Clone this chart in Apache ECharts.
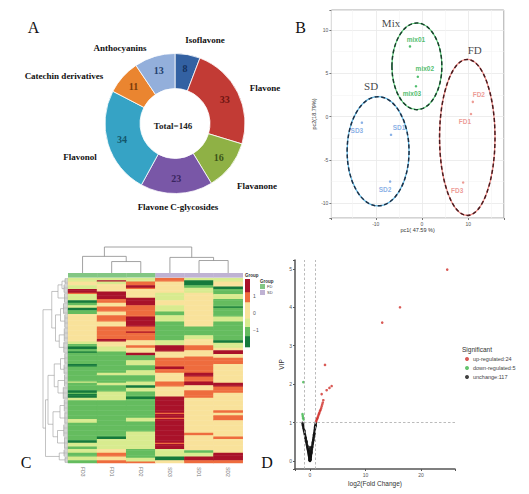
<!DOCTYPE html>
<html>
<head>
<meta charset="utf-8">
<script src="https://cdn.jsdelivr.net/npm/echarts@6/dist/echarts.min.js"></script>
<style>html,body{margin:0;padding:0;background:#fff;}#chart{width:529px;height:494px;}</style>
</head>
<body>
<div id="chart"></div>
<script>
// ================= DATA =================
// Panel A : flavonoid classes (donut)
const pieCategories = ['Isoflavone','Flavone','Flavanone','Flavone C-glycosides','Flavonol','Catechin derivatives','Anthocyanins'];
const pieValues = [8, 33, 16, 23, 34, 11, 13];
const pieCenterText = 'Total=146';

// Panel B : PCA scores
const pcaSamples = ['mix01','mix02','mix03','FD1','FD2','FD3','SD1','SD2','SD3'];
const pcaGroups  = ['Mix','Mix','Mix','FD','FD','FD','SD','SD','SD'];
const pcaPC1 = [-2.6, -0.9, -1.3, 10.6, 11.0, 8.9, -6.7, -6.9, -13.0];
const pcaPC2 = [ 8.1,  4.6,  3.5,  0.3,  1.7, -7.6, -2.1, -7.5,  -0.7];
const ellipseGroups = ['Mix','FD','SD'];
const ellipseCX = [-1.1, 9.8, -9.5];
const ellipseCY = [5.8, -2.4, -4.0];
const ellipseRX = [5.4, 6.0, 6.7];
const ellipseRY = [5.0, 9.0, 6.3];
const groupTagX = [-6.7, 11.4, -11.0];
const groupTagY = [10.8, 7.7, 3.5];
const pcaXTitle = 'pc1( 47.59 %)';
const pcaYTitle = 'pc2(18.79%)';

// Panel C : clustered heatmap (run-length coded rows, top to bottom)
const heatSamples = ['FD3','FD1','FD2','SD3','SD1','SD2'];
const heatSampleGroups = ['FD','FD','FD','SD','SD','SD'];
const heatLevelCodes  = ['G','g','l','y','o','r'];
const heatLevelValues = [-1.7, -1.1, -0.5, 0.2, 0.9, 1.6];
const heatColumnRuns = [
  'l3 y3 l3 r3 o1 l5 G2 g2 l2 G2 g3 y22 l2 g2 G2 g2 G1 g9 G2 g12 l1 g6 G2 g1 G3 l2 g15 l3 g14 G2 l3 g2 l3 g3 l3 g2',
  'l2 r1 l2 y6 r6 o3 y3 o4 y3 o5 y4 o10 r2 y4 l4 g17 l2 g6 l2 g5 l7 g29 G2 l8 y3 o3 y3 o2',
  'l3 o3 r2 o1 y2 y5 r6 o9 r8 o4 r1 o6 y4 o2 y4 r2 g4 l4 g4 l4 g5 l3 G2 l3 g4 G2 g15 l3 g8 l14 g7 l3 o1',
  'o3 y9 l6 y4 l5 g3 l5 g15 l4 r5 y5 o7 r2 o3 y7 o4 y8 r13 o1 r3 o1 r19 o1 r4 l6 G3 y2',
  'l2 G4 g2 l4 y27 g7 l3 y5 o4 y5 o13 r3 o4 r3 y4 o6 y28 o2 y12 g2 l3 r3 o2',
  'l3 y4 G2 g4 l4 g6 G1 g7 l4 g15 G2 l4 y2 r3 y3 o5 y15 r3 o5 y14 o2 y2 o4 y13 o2 y11 r6 o2'
];
const heatBreaks = [-2, -1.35, -0.8, -0.3, 0.65, 1.24, 2];
const heatLegendTicks = [-1, 0, 1];
const colTree = [25, [16, 0, [11, 1, 2]], [15, 3, [12, 4, 5]]];
const rowLeafGroups = [[0,5,1.2],[5,12,1.6],[12,20,1.4],[20,29,1.8],[29,40,1.3],[40,51,1.5],[51,60,1.7],[60,69,1.3],[69,77,1.6],[77,87,1.4],[87,97,1.9],[97,107,1.5],[107,117,1.3],[117,127,1.7],[127,137,1.4],[137,143,1.6],[143,148,1.2]];
const rowTree = [10, [6.5, [4, [2.4, 0, 1], 2], [5, [3, 3, 4], [3.5, 5, 6]]],
                     [9, [8, [5.5, [3, 7, 8], [4, 9, 10]], [6, [3.2, 11, 12], [4.2, 13, 14]]], [3.5, 15, 16]]];

// Panel D : volcano plot
const volcanoNames = ['up-regulated:24', 'down-regulated:5', 'unchange:117'];
const upPoints = [[1.08,1.02],[1.15,1.05],[1.22,1.08],[1.3,1.1],[1.38,1.13],[1.45,1.16],[1.55,1.2],[1.62,1.23],[1.7,1.26],[1.8,1.3],[1.9,1.33],[2.0,1.37],[2.1,1.42],[2.2,1.47],[2.3,1.52],[2.4,1.58],[2.1,1.74],[3.0,1.84],[3.5,1.9],[3.9,1.95],[2.7,2.5],[13.0,3.6],[16.2,4.0],[24.7,4.98]];
const downPoints = [[-1.2,2.05],[-1.35,1.22],[-1.3,1.17],[-1.25,1.12],[-1.15,1.08]];
const flatPoints = [
  [-1.36,0.99],[-1.31,0.95],[-1.27,0.92],[-1.22,0.89],[-1.18,0.86],[-1.14,0.84],[-1.1,0.81],[-1.06,0.78],[-1.02,0.76],[-0.98,0.73],
  [-0.94,0.7],[-0.9,0.68],[-0.87,0.65],[-0.83,0.62],[-0.8,0.6],[-0.76,0.57],[-0.72,0.54],[-0.69,0.52],[-0.65,0.49],[-0.62,0.47],
  [-0.58,0.44],[-0.55,0.42],[-0.52,0.4],[-0.49,0.37],[-0.46,0.35],[-0.43,0.33],[-0.4,0.31],[-0.37,0.29],[-0.34,0.27],[-0.31,0.25],
  [-0.29,0.23],[-0.26,0.21],[-0.24,0.19],[-0.21,0.17],[-0.19,0.15],[-0.17,0.13],[-0.15,0.12],[-0.13,0.1],[-0.11,0.08],[-0.09,0.07],
  [-0.07,0.05],[-0.05,0.04],[-0.04,0.02],[-0.02,0.01],[-1.24,0.94],[-1.0,0.79],[-0.78,0.6],[-0.6,0.5],[-0.44,0.38],[-0.3,0.27],
  [1.06,1.0],[1.03,0.97],[1.0,0.94],[0.97,0.91],[0.94,0.89],[0.91,0.86],[0.88,0.83],[0.85,0.8],[0.82,0.77],[0.79,0.74],
  [0.76,0.71],[0.73,0.68],[0.7,0.65],[0.67,0.62],[0.64,0.6],[0.61,0.57],[0.58,0.54],[0.55,0.51],[0.52,0.48],[0.49,0.45],
  [0.46,0.43],[0.43,0.4],[0.4,0.37],[0.37,0.34],[0.34,0.31],[0.31,0.29],[0.28,0.26],[0.26,0.24],[0.23,0.21],[0.21,0.19],
  [0.18,0.17],[0.16,0.15],[0.14,0.13],[0.12,0.11],[0.1,0.09],[0.08,0.07],[0.06,0.05],[0.04,0.03],[0.02,0.02],[1.02,0.92],
  [0.9,0.88],[0.8,0.71],[0.7,0.68],[0.6,0.54],[0.5,0.48],[0.38,0.36],[0.27,0.22],[0.2,0.2],[0.15,0.12],[0.09,0.1],
  [0,0.0],[0.01,0.03],[-0.01,0.06],[0.03,0.09],[-0.03,0.12],[0.02,0.15],[0.0,0.18],[-0.06,0.21],[0.05,0.24],[0.01,0.27],
  [-0.08,0.3],[0.07,0.33],[0.02,0.36],[-0.04,0.1],[0.05,0.05],[-0.1,0.02],[0.11,0.04]
];
const vipCut = 1, fcCutLow = -1, fcCutHigh = 1;

// ================= STYLE / LAYOUT =================
const serif = 'Liberation Serif';
const sans = 'Liberation Sans';
const pieColors = ['#3361a2','#c23b35','#8fb145','#7957a7','#36a3c5','#ea8530','#93afdb'];
const pieNumberColors = ['#14305e','#6e1512','#3c5418','#3a2560','#14566b','#7a3a08','#243f6d'];
const pieNamePos = [[205,40],[265,88],[257,186],[178,207],[80,157],[64,76],[120,48]];
const groupLabelColor = {Mix:'#23ad48', FD:'#e9837b', SD:'#6d9de0'};
const ellipseLight = {Mix:'#56c774', FD:'#f08c86', SD:'#5fb6e2'};
const ellipseDark = {Mix:'#163f2a', FD:'#4a1a1e', SD:'#1c2f45'};
const pcaLabelOffset = {mix01:[6,-7], mix02:[7,-8], mix03:[-4,7], FD1:[-6,7], FD2:[6,-7], FD3:[-6,8], SD1:[8,-7], SD2:[-5,8], SD3:[-5,8]};
const heatColors = ['#167a3c','#65bc5f','#d8eb8f','#f9e29b','#ee6c3e','#a9122a'];
const sampleGroupColors = {FD:'#82c683', SD:'#bfb2d3'};

// ================= BUILD =================
function decodeRuns(s){
  const out = [];
  s.trim().split(/\s+/).forEach(t => { const n = parseInt(t.slice(1), 10); for (let i = 0; i < n; i++) out.push(t[0]); });
  return out;
}
const heatCols = heatColumnRuns.map(decodeRuns);
const nRows = heatCols[0].length;
const rowNames = Array.from({length: nRows}, (_, i) => 'm' + (i + 1));
const heatData = [];
heatCols.forEach((col, ci) => col.forEach((code, ri) => heatData.push([ci, ri, heatLevelValues[heatLevelCodes.indexOf(code)]])));

// dendrogram layout -> segments in (position, height)
function layoutTree(node, segs, leafInfo){
  if (typeof node === 'number') return leafInfo(node, segs);
  const a = layoutTree(node[1], segs, leafInfo), b = layoutTree(node[2], segs, leafInfo), h = node[0];
  segs.push([a.pos, a.h, a.pos, h]);
  segs.push([b.pos, b.h, b.pos, h]);
  segs.push([a.pos, h, b.pos, h]);
  return {pos: (a.pos + b.pos) / 2, h: h};
}
const colSegs = [];
layoutTree(colTree, colSegs, (i) => ({pos: i, h: 0}));
const rowSegsPH = [];
layoutTree(rowTree, rowSegsPH, (gi, segs) => {
  const g = rowLeafGroups[gi];
  for (let r = g[0]; r < g[1]; r++) segs.push([r + 0.5, 0, r + 0.5, g[2]]);
  segs.push([g[0] + 0.5, g[2], g[1] - 0.5, g[2]]);
  return {pos: (g[0] + g[1]) / 2, h: g[2]};
});
const rowSegs = rowSegsPH.map(s => [s[1], s[0], s[3], s[2]]); // x = height, y = row

const legendBands = [];
for (let i = 0; i < heatColors.length; i++) legendBands.push([heatBreaks[i], heatBreaks[i + 1], i]);

function segRender(color, width){
  return function(params, api){
    const a = api.coord([api.value(0), api.value(1)]);
    const b = api.coord([api.value(2), api.value(3)]);
    return {type: 'line', shape: {x1: a[0], y1: a[1], x2: b[0], y2: b[1]}, style: {stroke: color, lineWidth: width}};
  };
}

const chart = echarts.init(document.getElementById('chart'), null, {renderer: 'svg'});

const tickLabel = {fontSize: 5, color: '#555', fontFamily: sans};
const noGrid = {show: false};

const pcaSeries = ellipseGroups.map(gname => ({
  type: 'scatter', xAxisIndex: 0, yAxisIndex: 0, symbolSize: 2.5, silent: true,
  itemStyle: {color: groupLabelColor[gname], opacity: 0.8},
  data: pcaSamples.map((s, i) => pcaGroups[i] === gname ? {name: s, value: [pcaPC1[i], pcaPC2[i]], label: {offset: pcaLabelOffset[s]}} : null).filter(Boolean),
  label: {show: true, position: 'inside', formatter: '{b}', fontSize: 6.5, fontWeight: 'bold', fontFamily: sans, color: groupLabelColor[gname]}
}));

const option = {
  backgroundColor: '#fff',
  animation: false,
  textStyle: {fontFamily: sans},
  graphic: [
    {type: 'text', x: 33.5, y: 27, style: {text: 'A', fontSize: 16, fontFamily: serif, fill: '#111', textAlign: 'center', textVerticalAlign: 'middle'}},
    {type: 'text', x: 300.5, y: 27, style: {text: 'B', fontSize: 16, fontFamily: serif, fill: '#111', textAlign: 'center', textVerticalAlign: 'middle'}},
    {type: 'text', x: 26, y: 462.5, style: {text: 'C', fontSize: 16, fontFamily: serif, fill: '#111', textAlign: 'center', textVerticalAlign: 'middle'}},
    {type: 'text', x: 267, y: 462.5, style: {text: 'D', fontSize: 16, fontFamily: serif, fill: '#111', textAlign: 'center', textVerticalAlign: 'middle'}},
    {type: 'text', x: 173, y: 126, style: {text: pieCenterText, fontSize: 9, fontWeight: 'bold', fontFamily: serif, fill: '#222', textAlign: 'center', textVerticalAlign: 'middle'}},
    {type: 'text', x: 245, y: 275.5, style: {text: 'Group', fontSize: 4.5, fontWeight: 'bold', fontFamily: sans, fill: '#333', textAlign: 'left', textVerticalAlign: 'middle'}},
    {type: 'text', x: 260, y: 281, style: {text: 'Group', fontSize: 4.5, fontWeight: 'bold', fontFamily: sans, fill: '#333', textAlign: 'left', textVerticalAlign: 'middle'}},
    {type: 'rect', shape: {x: 260, y: 284, width: 5, height: 5}, style: {fill: sampleGroupColors.FD}},
    {type: 'rect', shape: {x: 260, y: 290, width: 5, height: 5}, style: {fill: sampleGroupColors.SD}},
    {type: 'text', x: 267, y: 286.5, style: {text: 'FD', fontSize: 4, fontFamily: sans, fill: '#444', textAlign: 'left', textVerticalAlign: 'middle'}},
    {type: 'text', x: 267, y: 292.5, style: {text: 'SD', fontSize: 4, fontFamily: sans, fill: '#444', textAlign: 'left', textVerticalAlign: 'middle'}},
    {type: 'text', x: 462, y: 349.5, style: {text: 'Significant', fontSize: 6.5, fontFamily: sans, fill: '#333', textAlign: 'left', textVerticalAlign: 'middle'}}
  ],
  legend: {
    data: volcanoNames, orient: 'vertical', left: 465, top: 356, padding: 0,
    itemWidth: 4, itemHeight: 4, itemGap: 3, icon: 'circle', selectedMode: false,
    textStyle: {fontSize: 5.5, color: '#444', fontFamily: sans, padding: [0, 0, 0, -1]}
  },
  visualMap: [{
    type: 'piecewise', show: false, seriesIndex: 10, dimension: 2,
    pieces: legendBands.map(b => ({gte: b[0], lt: b[1], color: heatColors[b[2]]}))
  }],
  grid: [
    {left: 331.4, top: 10, width: 172.4, height: 208, show: true, borderColor: '#a8a8a8', borderWidth: 1, backgroundColor: '#fff', containLabel: false, outerBoundsMode: 'none'},
    {left: 295, top: 260, width: 160, height: 209, containLabel: false, outerBoundsMode: 'none'},
    {left: 68, top: 278, width: 174.7, height: 185, containLabel: false, outerBoundsMode: 'none'},
    {left: 68, top: 273, width: 174.7, height: 4.6, containLabel: false, outerBoundsMode: 'none'},
    {left: 68, top: 247, width: 174.7, height: 26, containLabel: false, outerBoundsMode: 'none'},
    {left: 43, top: 278, width: 25, height: 185, containLabel: false, outerBoundsMode: 'none'},
    {left: 245, top: 279, width: 5, height: 68, containLabel: false, outerBoundsMode: 'none'}
  ],
  xAxis: [
    {gridIndex: 0, type: 'value', min: -19.6, max: 17.7, splitNumber: 4,
     name: pcaXTitle, nameLocation: 'middle', nameGap: 9, nameTextStyle: {fontSize: 5.5, color: '#333'},
     axisLine: {show: false, onZero: false}, axisTick: {show: true, length: 2, lineStyle: {color: '#777'}},
     axisLabel: Object.assign({margin: 3, formatter: v => (Math.abs(v % 10) < 1e-9 ? String(v) : '')}, tickLabel),
     splitLine: {show: true, lineStyle: {color: '#e8e8e8', width: 0.8}},
     minorTick: {show: false, splitNumber: 2}, minorSplitLine: {show: true, lineStyle: {color: '#f3f3f3', width: 0.6}}},
    {gridIndex: 1, type: 'value', min: -2.7, max: 26.1, splitNumber: 3,
     name: 'log2(Fold Change)', nameLocation: 'middle', nameGap: 11, nameTextStyle: {fontSize: 6.5, color: '#333'},
     axisLine: {show: true, onZero: false, lineStyle: {color: '#555', width: 1.5}}, axisTick: {show: true, length: 2, lineStyle: {color: '#555'}},
     axisLabel: Object.assign({margin: 3, formatter: v => (Math.abs(v % 10) < 1e-9 ? String(v) : '')}, tickLabel),
     splitLine: noGrid},
    {gridIndex: 2, type: 'category', data: heatSamples, axisLine: {show: false}, axisTick: {show: false},
     axisLabel: {rotate: -90, fontSize: 5, color: '#777', margin: 4, fontFamily: sans}, splitLine: noGrid},
    {gridIndex: 3, type: 'value', min: -0.5, max: 5.5, show: false},
    {gridIndex: 4, type: 'value', min: -0.5, max: 5.5, show: false},
    {gridIndex: 5, type: 'value', min: 0, max: 10, inverse: true, show: false},
    {gridIndex: 6, type: 'value', min: 0, max: 1, show: false}
  ],
  yAxis: [
    {gridIndex: 0, type: 'value', min: -11.7, max: 12.3, splitNumber: 5,
     name: pcaYTitle, nameLocation: 'middle', nameGap: 11, nameTextStyle: {fontSize: 5.5, color: '#333'},
     axisLine: {show: false, onZero: false}, axisTick: {show: true, length: 2, lineStyle: {color: '#777'}},
     axisLabel: Object.assign({margin: 3, formatter: v => (Math.abs(v % 5) < 1e-9 ? String(v) : '')}, tickLabel),
     splitLine: {show: true, lineStyle: {color: '#e8e8e8', width: 0.8}},
     minorTick: {show: false, splitNumber: 2}, minorSplitLine: {show: true, lineStyle: {color: '#f3f3f3', width: 0.6}}},
    {gridIndex: 1, type: 'value', min: -0.21, max: 5.23, splitNumber: 5,
     name: 'VIP', nameLocation: 'middle', nameGap: 10, nameTextStyle: {fontSize: 6.5, color: '#333'},
     axisLine: {show: true, onZero: false, lineStyle: {color: '#555', width: 1.5}}, axisTick: {show: true, length: 2, lineStyle: {color: '#555'}},
     axisLabel: Object.assign({margin: 3, formatter: v => (Math.abs(v - Math.round(v)) < 1e-9 ? String(v) : '')}, tickLabel),
     splitLine: noGrid},
    {gridIndex: 2, type: 'category', data: rowNames, inverse: true, show: false},
    {gridIndex: 3, type: 'value', min: 0, max: 1, show: false},
    {gridIndex: 4, type: 'value', min: 0, max: 25, show: false},
    {gridIndex: 5, type: 'value', min: 0, max: nRows, inverse: true, show: false},
    {gridIndex: 6, type: 'value', min: -2, max: 2, interval: 1, position: 'right',
     axisLine: {show: false}, axisTick: {show: false}, splitLine: noGrid,
     axisLabel: {show: true, fontSize: 5, color: '#555', margin: 3, fontFamily: sans,
       formatter: v => (heatLegendTicks.indexOf(v) >= 0 ? (v < 0 ? '\u22121' : String(v)) : '')}}
  ],
  series: [
    // 0: donut with counts
    {type: 'pie', center: [175, 123.5], radius: [35, 70], startAngle: 90, clockwise: true, silent: true,
     itemStyle: {borderColor: '#fff', borderWidth: 0.8},
     label: {show: true, position: 'inside', formatter: '{c}', fontSize: 10, fontWeight: 'bold', fontFamily: serif},
     labelLine: {show: false},
     data: pieCategories.map((c, i) => ({name: c, value: pieValues[i], itemStyle: {color: pieColors[i]}, label: {color: pieNumberColors[i]}}))},
    // 1: donut category names
    {type: 'pie', center: [175, 123.5], radius: [35, 70], startAngle: 90, clockwise: true, silent: true,
     itemStyle: {color: 'rgba(0,0,0,0)'},
     label: {show: true, position: 'outside', formatter: '{b}', fontSize: 9, fontWeight: 'bold', fontFamily: serif, color: '#111', overflow: 'none', edgeDistance: 0},
     labelLine: {show: false},
     labelLayout: p => ({x: pieNamePos[p.dataIndex][0], y: pieNamePos[p.dataIndex][1], align: 'center', verticalAlign: 'middle'}),
     data: pieCategories.map((c, i) => ({name: c, value: pieValues[i]}))},
    // 2: PCA confidence ellipses
    {type: 'custom', xAxisIndex: 0, yAxisIndex: 0, silent: true,
     data: ellipseGroups.map((g, i) => [ellipseCX[i], ellipseCY[i], ellipseRX[i], ellipseRY[i], i]),
     renderItem: (params, api) => {
       const c = api.coord([api.value(0), api.value(1)]);
       const s = api.size([api.value(2), api.value(3)]);
       const g = ellipseGroups[api.value(4)];
       return {type: 'group', children: [
         {type: 'ellipse', shape: {cx: c[0], cy: c[1], rx: s[0], ry: s[1]}, style: {fill: 'none', stroke: ellipseLight[g], lineWidth: 1.2}},
         {type: 'ellipse', shape: {cx: c[0], cy: c[1], rx: s[0], ry: s[1]}, style: {fill: 'none', stroke: ellipseDark[g], lineWidth: 1.5, lineDash: [4, 2.5]}}
       ]};
     }},
    // 3-5: PCA samples
    pcaSeries[0], pcaSeries[1], pcaSeries[2],
    // 6: PCA group names
    {type: 'scatter', xAxisIndex: 0, yAxisIndex: 0, symbolSize: 0, silent: true,
     data: ellipseGroups.map((g, i) => ({name: g, value: [groupTagX[i], groupTagY[i]]})),
     label: {show: true, position: 'inside', formatter: '{b}', fontSize: 11, fontFamily: serif, color: '#111'}},
    // 7: volcano unchanged + threshold lines
    {type: 'scatter', name: volcanoNames[2], xAxisIndex: 1, yAxisIndex: 1, symbolSize: 2.6, silent: true,
     itemStyle: {color: '#111'}, data: flatPoints,
     markLine: {silent: true, symbol: 'none', label: {show: false},
       lineStyle: {color: '#aaa', type: [2.5, 2], width: 0.8},
       data: [{xAxis: fcCutLow}, {xAxis: fcCutHigh}, {yAxis: vipCut}]}},
    // 8: volcano up
    {type: 'scatter', name: volcanoNames[0], xAxisIndex: 1, yAxisIndex: 1, symbolSize: 2.6, silent: true,
     itemStyle: {color: '#cf2f2a'}, data: upPoints},
    // 9: volcano down
    {type: 'scatter', name: volcanoNames[1], xAxisIndex: 1, yAxisIndex: 1, symbolSize: 2.6, silent: true,
     itemStyle: {color: '#3db54a'}, data: downPoints},
    // 10: heatmap
    {type: 'heatmap', xAxisIndex: 2, yAxisIndex: 2, data: heatData, silent: true, progressive: 0,
     itemStyle: {borderWidth: 0}},
    // 11: sample group bar
    {type: 'custom', xAxisIndex: 3, yAxisIndex: 3, silent: true,
     data: heatSampleGroups.map((g, i) => [i, g === 'FD' ? 0 : 1]),
     renderItem: (params, api) => {
       const a = api.coord([api.value(0) - 0.5, 1]);
       const b = api.coord([api.value(0) + 0.5, 0]);
       return {type: 'rect', shape: {x: a[0], y: a[1], width: b[0] - a[0] + 0.3, height: b[1] - a[1]},
               style: {fill: api.value(1) === 0 ? sampleGroupColors.FD : sampleGroupColors.SD}};
     }},
    // 12: column dendrogram
    {type: 'custom', xAxisIndex: 4, yAxisIndex: 4, silent: true, data: colSegs, renderItem: segRender('#8c8c8c', 0.8)},
    // 13: row dendrogram
    {type: 'custom', xAxisIndex: 5, yAxisIndex: 5, silent: true, data: rowSegs, renderItem: segRender('#9a9a9a', 0.6)},
    // 14: colour key
    {type: 'custom', xAxisIndex: 6, yAxisIndex: 6, silent: true, data: legendBands,
     renderItem: (params, api) => {
       const a = api.coord([0, api.value(1)]);
       const b = api.coord([1, api.value(0)]);
       return {type: 'rect', shape: {x: a[0], y: a[1], width: b[0] - a[0], height: b[1] - a[1] + 0.3},
               style: {fill: heatColors[api.value(2)]}};
     }}
  ]
};
chart.setOption(option);
</script>
</body>
</html>
